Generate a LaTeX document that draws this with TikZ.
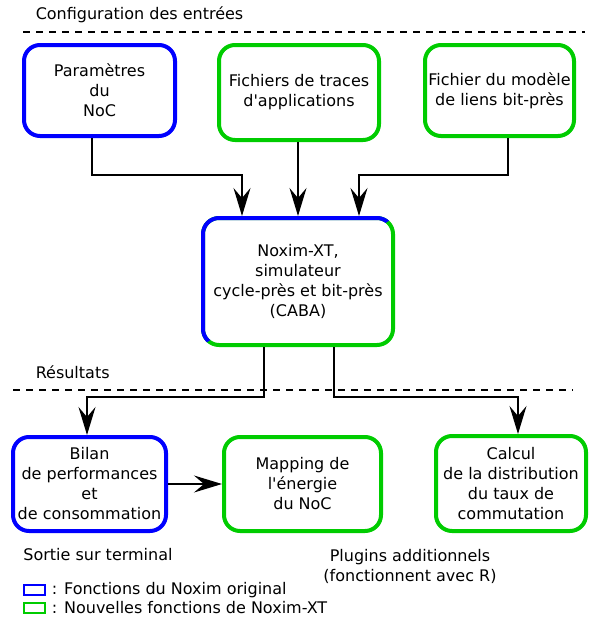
\documentclass[tikz,border=0pt]{standalone}
\usepackage{fontspec}
\setmainfont{DejaVu Sans}
\usetikzlibrary{arrows.meta}
\usetikzlibrary{calc}
\usetikzlibrary{positioning}

\definecolor{orig}{RGB}{0,0,255}
\definecolor{xt}{RGB}{0,204,0}

\tikzset{
every picture/.style={
line width=1.5pt
},
blk/.style={draw, line width=4pt, rounded corners=16pt, align=center, inner sep=2pt, font=\fontsize{16}{20}\selectfont},
lbl/.style={inner sep=0pt, font=\fontsize{16}{20}\selectfont},
conn/.style={-{Stealth[length=28pt,width=17pt,inset=10pt]}, line width=1.5pt},
sepline/.style={dash pattern=on 7pt off 6pt, line width=2pt},
legbox/.style={draw, line width=1.6pt, minimum width=21.4pt, minimum height=10.4pt, inner sep=0pt, outer sep=0pt}
}

\begin{document}
\begin{tikzpicture}[x=1pt,y=-1pt]
  \useasboundingbox (0,0) rectangle (590,619);

  % entrees
  \node [lbl,anchor=west] at (35,15) (cfg) {Configuration des entrées};
  \draw [sepline] (23,32) -- (585,32);

  \node [blk,draw=orig,minimum width=151pt,minimum height=91pt] at (99.5,90.5) (param) {Paramètres\\du\\NoC};
  \node [blk,draw=xt,minimum width=160pt,minimum height=95pt] at (299,92.5) (traces) {Fichiers de traces\\d\textquotesingle applications};
  \node [blk,draw=xt,minimum width=149pt,minimum height=91pt] at (499.5,90.5) (modele) {Fichier du modèle\\de liens bit-près};

  % simulateur, bord moitie bleu moitie vert
  \node [lbl,align=center,outer sep=0pt,minimum width=190pt,minimum height=127pt] at (298,281.5) (noxim) {Noxim-XT,\\simulateur\\cycle-près et bit-près\\(CABA)};
  \draw [xt,line width=4pt,rounded corners=16pt] (noxim.south west) rectangle (noxim.north east);
  \begin{scope}
    \clip ($(noxim.south west)!-0.2!(noxim.north east)$) -- ($(noxim.south west)!1.2!(noxim.north east)$) -- ([shift={(-30,-30)}]noxim.north west) -- cycle;
    \draw [orig,line width=4pt,rounded corners=16pt] (noxim.south west) rectangle (noxim.north east);
  \end{scope}

  \draw [conn] ([xshift=-7.5pt]param.south) -- ++(0,37) -| ([xshift=-56pt,yshift=2pt]noxim.north);
  \draw [conn] (noxim.north |- traces.south) -- ([yshift=2pt]noxim.north);
  \draw [conn] ([xshift=8.5pt]modele.south) -- ++(0,37) -| ([xshift=61pt,yshift=2pt]noxim.north);

  % resultats
  \node [lbl,anchor=west] at (35,372) (res) {Résultats};
  \draw [sepline] (13,390) -- (573,390);

  \node [blk,draw=orig,minimum width=153pt,minimum height=94pt] at (89.5,484) (bilan) {Bilan\\de performances\\et\\de consommation};
  \node [blk,draw=xt,minimum width=157pt,minimum height=94pt] at (302.5,484) (mapping) {Mapping de\\l\textquotesingle énergie\\du NoC};
  \node [blk,draw=xt,minimum width=150pt,minimum height=95pt] at (511,483.5) (calcul) {Calcul\\de la distribution\\du taux de\\commutation};

  \draw [conn] ([xshift=-34pt,yshift=-2pt]noxim.south) -- ++(0,50) -| ([xshift=-2.5pt]bilan.north);
  \draw [conn] ([xshift=36pt,yshift=-2pt]noxim.south) -- ++(0,50) -| ([xshift=7pt]calcul.north);
  \draw [conn] (bilan) -- (mapping);

  \node [lbl] at (98,555) (sortie) {Sortie sur terminal};
  \node [lbl,align=center] at (410,566) (plugins) {Plugins additionnels\\(fonctionnent avec R)};

  % legende
  \node [legbox,draw=orig] at (34.5,590) (legorig) {};
  \node [legbox,draw=xt] at (34.5,608) (legxt) {};
  \node [lbl,right=6pt of legorig] (txtorig) {: Fonctions du Noxim original};
  \node [lbl,right=6pt of legxt] (txtxt) {: Nouvelles fonctions de Noxim-XT};
\end{tikzpicture}
\end{document}
